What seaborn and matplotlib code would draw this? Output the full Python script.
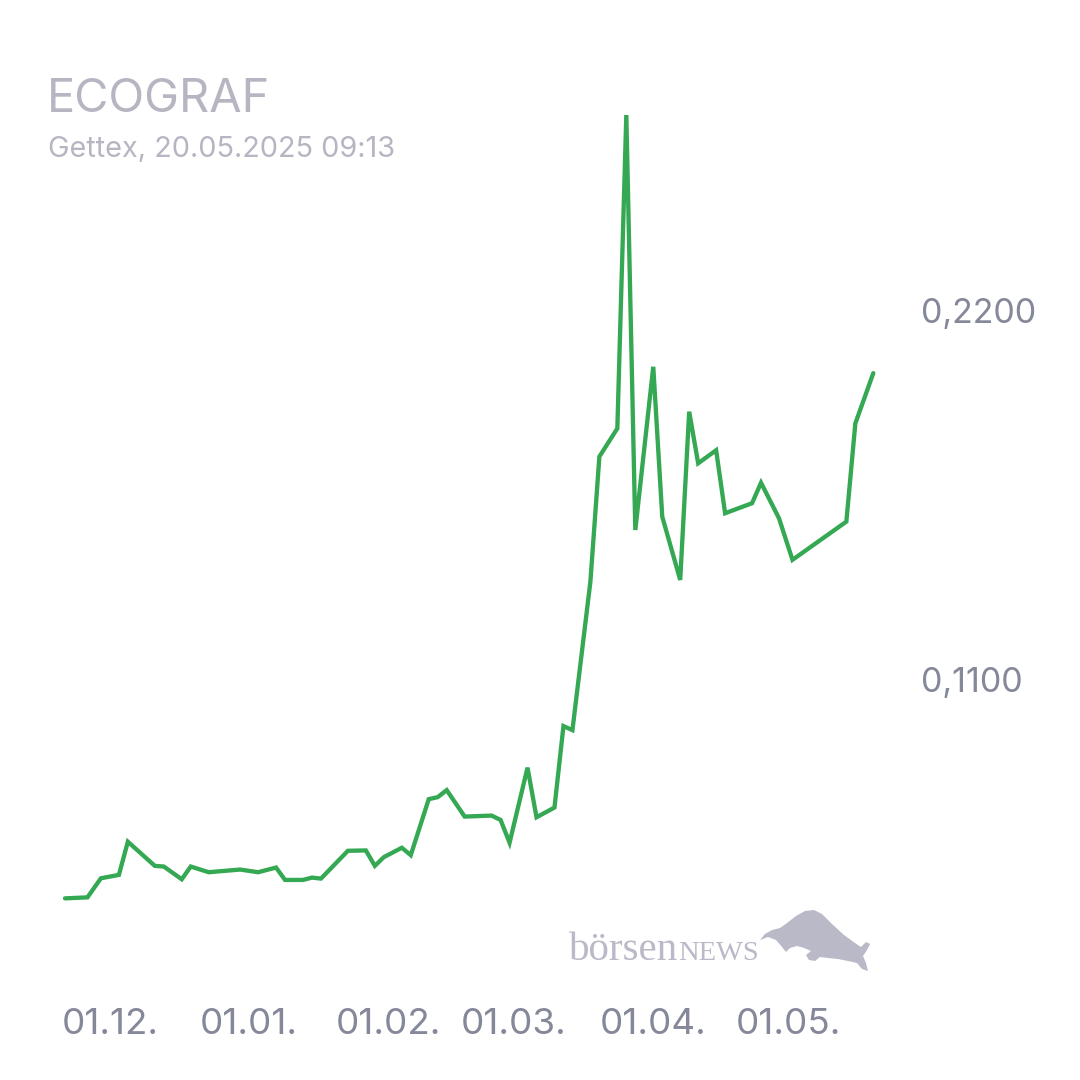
import matplotlib
matplotlib.use("Agg")
import matplotlib.pyplot as plt
from matplotlib.patches import Polygon
import pandas as pd
import seaborn as sns

# ---------------- data ----------------
dates = ["2024-11-21", "2024-11-26", "2024-11-29", "2024-12-03", "2024-12-05",
         "2024-12-11", "2024-12-13", "2024-12-17", "2024-12-19", "2024-12-23",
         "2024-12-30", "2025-01-03", "2025-01-07", "2025-01-09", "2025-01-13",
         "2025-01-15", "2025-01-17", "2025-01-23", "2025-01-27", "2025-01-29",
         "2025-01-31", "2025-02-04", "2025-02-06", "2025-02-10", "2025-02-12",
         "2025-02-14", "2025-02-18", "2025-02-24", "2025-02-26", "2025-02-28",
         "2025-03-04", "2025-03-06", "2025-03-10", "2025-03-12", "2025-03-14",
         "2025-03-18", "2025-03-20", "2025-03-24", "2025-03-26", "2025-03-28",
         "2025-04-01", "2025-04-03", "2025-04-07", "2025-04-09", "2025-04-11",
         "2025-04-15", "2025-04-17", "2025-04-23", "2025-04-25", "2025-04-29",
         "2025-05-02", "2025-05-14", "2025-05-16", "2025-05-20"]
prices = [0.0447, 0.0450, 0.0507, 0.0517, 0.0616,
          0.0544, 0.0542, 0.0504, 0.0542, 0.0525,
          0.0533, 0.0525, 0.0539, 0.0502, 0.0502,
          0.0509, 0.0506, 0.0589, 0.0590, 0.0544,
          0.0570, 0.0598, 0.0576, 0.0743, 0.0749,
          0.0770, 0.0691, 0.0694, 0.0681, 0.0613,
          0.0837, 0.0689, 0.0718, 0.0961, 0.0949,
          0.1392, 0.1765, 0.1849, 0.2784, 0.1546,
          0.2033, 0.1586, 0.1397, 0.1899, 0.1745,
          0.1784, 0.1596, 0.1626, 0.1687, 0.1581,
          0.1457, 0.1571, 0.1864, 0.2014]

xtick_dates = ["2024-12-01", "2025-01-01", "2025-02-01", "2025-03-01", "2025-04-01", "2025-05-01"]
xtick_labels = ["01.12.", "01.01.", "01.02.", "01.03.", "01.04.", "01.05."]
ytick_values = [0.11, 0.22]
ytick_labels = ["0,1100", "0,2200"]

title = "ECOGRAF"
subtitle = "Gettex, 20.05.2025 09:13"

# ---------------- style ----------------
sns.set_style("white")
plt.rcParams["font.family"] = ["Inter", "DejaVu Sans"]

LINE = "#34a853"
TICK = "#858899"
TITLE = "#b6b6c3"
LOGO = "#b9b9c8"

W = H = 1080
fig = plt.figure(figsize=(10.8, 10.8), dpi=100)
fig.patch.set_facecolor("white")

def fx(px):
    return px / W

def fy(py):
    return 1 - py / H

# axes: x from pixel 65 to 873.3, y from pixel 100 to 1000
ax = fig.add_axes([fx(65), fy(1000), fx(873.3) - fx(65), fy(100) - fy(1000)])

df = pd.DataFrame({"date": pd.to_datetime(dates), "price": prices})
sns.lineplot(data=df, x="date", y="price", ax=ax, color=LINE, linewidth=3.1,
             solid_joinstyle="miter")
for ln in ax.get_lines():
    ln.set_clip_on(False)

ax.set_xlim(pd.Timestamp(dates[0]), pd.Timestamp(dates[-1]))
# pixel mapping: 0.22 at y=310.8, 0.11 at y=679.5
ppu = (679.5 - 310.8) / 0.11
ax.set_ylim(0.11 - (1000 - 679.5) / ppu, 0.11 + (679.5 - 100) / ppu)

for s in ax.spines.values():
    s.set_visible(False)
ax.set_facecolor("white")
ax.grid(False)
ax.set_xlabel("")
ax.set_ylabel("")

ax.set_xticks(pd.to_datetime(xtick_dates))
ax.set_xticklabels(xtick_labels)
ax.tick_params(axis="x", length=0, pad=6, labelsize=26.5, labelcolor=TICK)

ax.yaxis.tick_right()
ax.set_yticks(ytick_values)
ax.set_yticklabels(ytick_labels)
ax.tick_params(axis="y", length=0, pad=34, labelsize=24.5, labelcolor=TICK)

# titles
fig.text(fx(47), fy(111.7), title, fontsize=33.8, color=TITLE, ha="left", va="baseline")
fig.text(fx(48), fy(156.7), subtitle, fontsize=20.8, color=TITLE, ha="left", va="baseline")

# logo: börsenNEWS + bull silhouette
fig.text(fx(569), fy(960), "börsen", fontsize=29.5, color=LOGO, ha="left", va="baseline",
         family=["Liberation Serif", "DejaVu Serif"])
fig.text(fx(678), fy(960), "NEWS", fontsize=20.5, color=LOGO, ha="left", va="baseline",
         family=["Liberation Serif", "DejaVu Serif"])

bull_px = [(760, 940), (765, 934), (772, 930), (780, 928), (787, 923), (796, 916),
           (805, 911), (814, 910), (822, 914), (832, 924), (844, 935), (855, 943),
           (861, 947), (866, 942), (870, 944), (867, 950), (863, 956), (866, 963),
           (868, 971), (862, 969), (857, 963), (848, 961), (838, 959), (828, 958),
           (820, 957), (815, 961), (809, 960), (806, 955), (811, 951), (804, 948),
           (797, 946), (790, 948), (786, 952), (782, 947), (776, 940), (768, 937)]
bull = Polygon([(fx(x), fy(y)) for x, y in bull_px], closed=True,
               transform=fig.transFigure, facecolor=LOGO, edgecolor="none")
fig.patches.append(bull)

fig.savefig("out.png", dpi=100, facecolor="white")
